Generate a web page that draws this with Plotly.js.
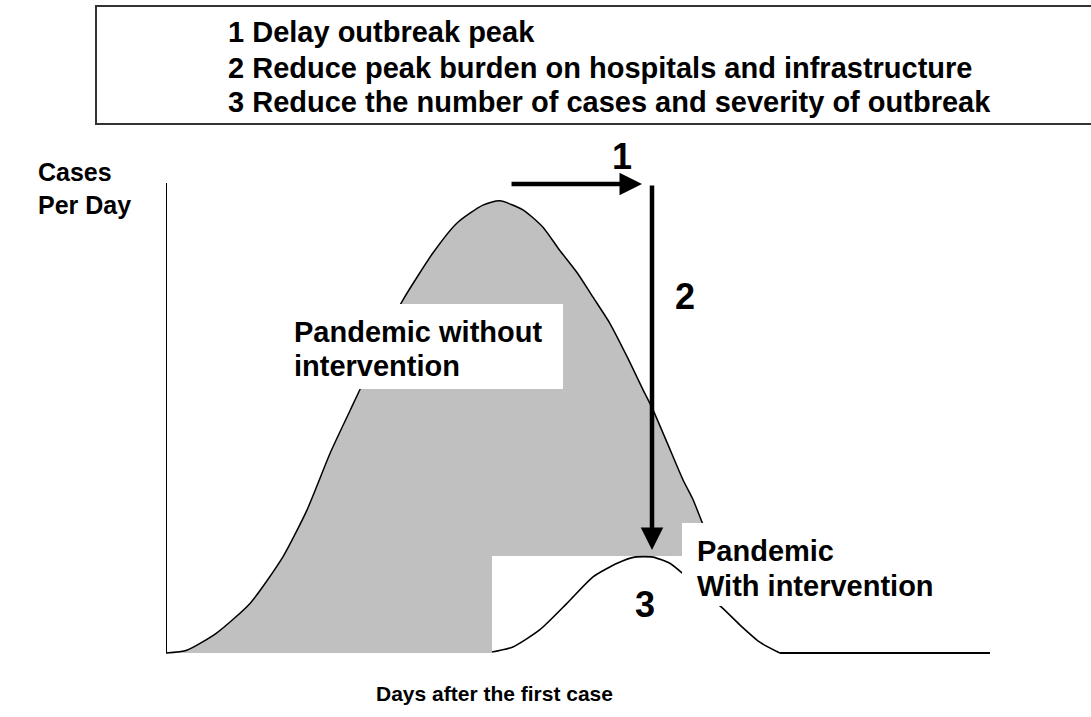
<!DOCTYPE html>
<html>
<head>
<meta charset="utf-8">
<script src="https://cdn.plot.ly/plotly-3.0.1.min.js"></script>
<style>html,body{margin:0;padding:0;background:#fff;}#chart{width:1091px;height:717px;}</style>
</head>
<body>
<div id="chart"></div>
<script>
// ---- data (days after first case, cases per day, arbitrary units) ----
const withoutDays  = [0, 2.5, 6.1, 10.1, 14.0, 16.9, 19.7, 22.1, 23.6, 26.0, 28.4, 32.0, 34.9, 38.0, 40.0, 42.8, 45.2, 47.2, 49.3, 51.2, 53.2, 55.3, 57.2, 58.3, 60.1, 62.0, 63.2, 64.3, 65.8, 67.6, 70.0, 73.0, 76.0];
const withoutCases = [0, 0.6, 4.3, 10.6, 20.4, 30.4, 42.6, 51.7, 57.4, 67.2, 75.1, 85.1, 91.5, 95.3, 96.2, 94.3, 90.6, 85.7, 80.9, 75.7, 70.2, 63.0, 56.0, 52.1, 44.7, 36.8, 32.6, 27.7, 20.9, 13.4, 6.0, 1.1, 0];
const withDays  = [39.1, 41.6, 44.8, 48.1, 51.2, 54.1, 56.2, 58.4, 60.4, 61.9, 64.3, 66.7, 68.8, 71.2, 73.6];
const withCases = [0.2, 1.3, 4.9, 10.6, 16.2, 19.1, 20.4, 20.4, 19.1, 17.0, 13.0, 9.6, 6.0, 2.3, 0];
const tailDays  = [73.6, 98.8];
const tailCases = [0, 0];
const goals = [
  "1 Delay outbreak peak",
  "2 Reduce peak burden on hospitals and infrastructure",
  "3 Reduce the number of cases and severity of outbreak"
];
const yLabel = ["Cases", "Per Day"];
const xLabel = "Days after the first case";
const labelWithout = ["Pandemic without", "intervention"];
const labelWith = ["Pandemic", "With intervention"];

// ---- layout helpers ----
// plot area: x 0..100 -> px 166..1000 ; y 0..100 -> px 653..183 (area extended 5px below 0 so the baseline is not clipped)
const L = 166, R = 1000, T = 183, Y0 = 653, B = 658;
const YMIN = -(B - Y0) / ((Y0 - T) / 100);
const px = x => (x - L) / (R - L);
const py = y => (B - y) / (B - T);
const xd = p => (p - L) / (R - L) * 100;
const yd = p => (Y0 - p) / (Y0 - T) * 100;
const FONT = "Liberation Sans, Arial, sans-serif";
const txt = (s, x, y, size, xanchor) => ({
  text: "<b>" + s + "</b>", xref: "paper", yref: "paper", x: px(x), y: py(y),
  xanchor: xanchor || "left", yanchor: "middle", showarrow: false,
  font: {family: FONT, size: size, color: "#000"}
});

const traces = [
  {x: withoutDays, y: withoutCases, type: "scatter", mode: "lines", fill: "tozeroy",
   fillcolor: "#c0c0c0", line: {color: "#000", width: 1.5, shape: "spline", smoothing: 0.6},
   hoverinfo: "skip", showlegend: false},
  // white background of the inserted "with intervention" panel
  {x: [xd(492), xd(492), xd(835), xd(835), xd(492)], y: [YMIN, yd(556), yd(556), YMIN, YMIN],
   type: "scatter", mode: "lines", fill: "toself", fillcolor: "#fff",
   line: {width: 0, color: "rgba(0,0,0,0)"}, hoverinfo: "skip", showlegend: false},
  {x: withDays, y: withCases, type: "scatter", mode: "lines",
   line: {color: "#000", width: 1.6, shape: "spline", smoothing: 0.6}, hoverinfo: "skip", showlegend: false},
  {x: tailDays, y: tailCases, type: "scatter", mode: "lines",
   line: {color: "#000", width: 2}, hoverinfo: "skip", showlegend: false}
];

const annotations = [
  txt(goals[0], 226, 32, 29),
  txt(goals[1], 226, 68, 29),
  txt(goals[2], 226, 102, 29),
  txt(yLabel[0], 36, 172, 25),
  txt(yLabel[1], 36, 205, 25),
  txt(xLabel, 494, 693, 21, "center"),
  txt(labelWithout[0], 292, 332, 29),
  txt(labelWithout[1], 292, 366, 29),
  txt(labelWith[0], 695, 551, 29),
  txt(labelWith[1], 695, 586, 29),
  txt("1", 622, 157, 36, "center"),
  txt("2", 685, 296, 36, "center"),
  txt("3", 645, 604, 36, "center"),
  // arrows
  {x: xd(642), y: yd(184), ax: xd(510), ay: yd(184), xref: "x", yref: "y", axref: "x", ayref: "y",
   text: "", showarrow: true, arrowhead: 2, arrowsize: 1, arrowwidth: 4.5, arrowcolor: "#000", standoff: 0, startstandoff: 0},
  {x: xd(652), y: yd(550), ax: xd(652), ay: yd(184), xref: "x", yref: "y", axref: "x", ayref: "y",
   text: "", showarrow: true, arrowhead: 2, arrowsize: 1, arrowwidth: 4.5, arrowcolor: "#000", standoff: 0, startstandoff: 0}
];

const shapes = [
  // vertical (cases) axis
  {type: "line", xref: "x", yref: "y", x0: 0, x1: 0, y0: 0, y1: 100, line: {color: "#000", width: 2}, layer: "above"},
  // header box
  {type: "rect", xref: "paper", yref: "paper", x0: px(96), x1: px(1100), y0: py(124), y1: py(6),
   line: {color: "#333", width: 2}, fillcolor: "rgba(0,0,0,0)", layer: "above"},
  // white label backgrounds
  {type: "rect", xref: "paper", yref: "paper", x0: px(285), x1: px(563), y0: py(389), y1: py(304),
   line: {width: 0}, fillcolor: "#fff", layer: "above"},
  {type: "rect", xref: "paper", yref: "paper", x0: px(682), x1: px(950), y0: py(606), y1: py(523),
   line: {width: 0}, fillcolor: "#fff", layer: "above"}
];

const layout = {
  width: 1091, height: 717,
  margin: {l: L, r: 1091 - R, t: T, b: 717 - B, pad: 0},
  paper_bgcolor: "#fff", plot_bgcolor: "#fff",
  showlegend: false,
  xaxis: {range: [0, 100], visible: false, fixedrange: true},
  yaxis: {range: [YMIN, 100], visible: false, fixedrange: true},
  annotations: annotations,
  shapes: shapes
};

Plotly.newPlot("chart", traces, layout, {displayModeBar: false, staticPlot: true});
</script>
</body>
</html>
